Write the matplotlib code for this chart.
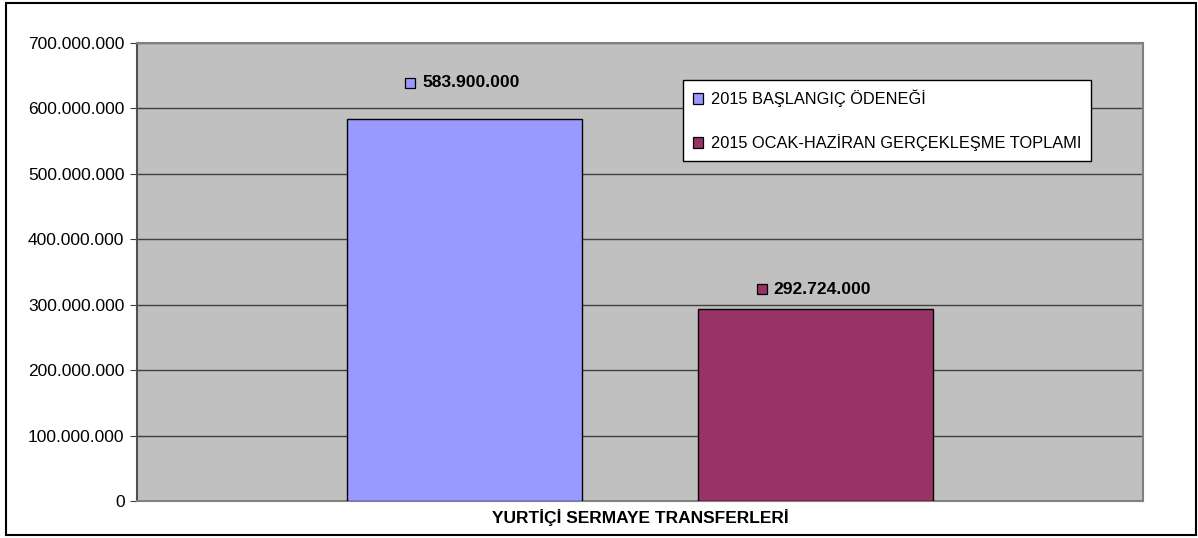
import matplotlib.pyplot as plt
import matplotlib.transforms as mtransforms
from matplotlib.patches import Rectangle
from matplotlib.ticker import FuncFormatter

plt.rcParams['font.family'] = ['Liberation Sans', 'DejaVu Sans']

# Datos
category = 'YURTİÇİ SERMAYE TRANSFERLERİ'
series = ['2015 BAŞLANGIÇ ÖDENEĞİ', '2015 OCAK-HAZİRAN GERÇEKLEŞME TOPLAMI']
values = [583900000, 292724000]
colors = ['#9999ff', '#993366']
y_ticks = [0, 100000000, 200000000, 300000000, 400000000, 500000000, 600000000, 700000000]


def tr_fmt(v, pos=None):
    return f"{int(v):,}".replace(',', '.')


W, H = 1198, 538
fig = plt.figure(figsize=(W / 100, H / 100), dpi=100)
# marco exterior
fig.patches.append(Rectangle((6 / W, 3 / H), 1190 / W, 532 / H, transform=fig.transFigure,
                             fill=False, edgecolor='black', linewidth=1.5))

px_left, px_right, px_top, px_bottom = 137, 1143, 43, 501
ax = fig.add_axes([px_left / W, 1 - px_bottom / H, (px_right - px_left) / W, (px_bottom - px_top) / H])
ax.set_facecolor('#c0c0c0')

width = 0.2336
offsets = [-0.1745, 0.1745]
label_dy = [36, 20]  # px sobre la barra (como en Excel)
for off, v, c, name, dy in zip(offsets, values, colors, series, label_dy):
    ax.bar(off, v, width=width, color=c, edgecolor='black', linewidth=1, label=name, zorder=3)

    # etiqueta de datos con cuadradito
    sq = mtransforms.offset_copy(ax.transData, fig=fig, x=-54 * 0.72, y=dy * 0.72, units='points')
    ax.plot([off], [v], marker='s', markersize=7, color=c, markeredgecolor='black',
            markeredgewidth=0.9, transform=sq, clip_on=False, zorder=4)
    tx = mtransforms.offset_copy(ax.transData, fig=fig, x=-42 * 0.72, y=dy * 0.72, units='points')
    ax.text(off, v, tr_fmt(v), transform=tx, ha='left', va='center',
            fontsize=12.6, fontweight='bold', zorder=4)

ax.set_xlim(-0.5, 0.5)
ax.set_ylim(0, 700000000)
ax.set_yticks(y_ticks)
ax.yaxis.set_major_formatter(FuncFormatter(tr_fmt))
ax.tick_params(axis='y', labelsize=12.5, length=5, color='#404040', pad=4)
ax.set_xticks([0])
ax.set_xticklabels([category], fontsize=12.5, fontweight='bold')
ax.tick_params(axis='x', length=0, pad=6)
ax.grid(axis='y', color='#404040', linewidth=1, zorder=1)
ax.set_axisbelow(True)

for s in ['top', 'right', 'bottom']:
    ax.spines[s].set_color('#808080')
    ax.spines[s].set_linewidth(1.5)
ax.spines['left'].set_color('#505050')
ax.spines['left'].set_linewidth(1.5)

leg = ax.legend(loc='upper left',
                bbox_to_anchor=((683 - px_left) / (px_right - px_left), (px_bottom - 80) / (px_bottom - px_top)),
                fontsize=11.8, frameon=True, fancybox=False, edgecolor='black',
                handlelength=0.6, handleheight=0.6, handletextpad=0.5,
                labelspacing=1.65, borderpad=0.6, borderaxespad=0)
leg.get_frame().set_linewidth(1)
leg.get_frame().set_facecolor('white')
leg.get_frame().set_alpha(1)
for h in leg.legend_handles:
    h.set_linewidth(0.9)

fig.savefig('out.png', dpi=100)
